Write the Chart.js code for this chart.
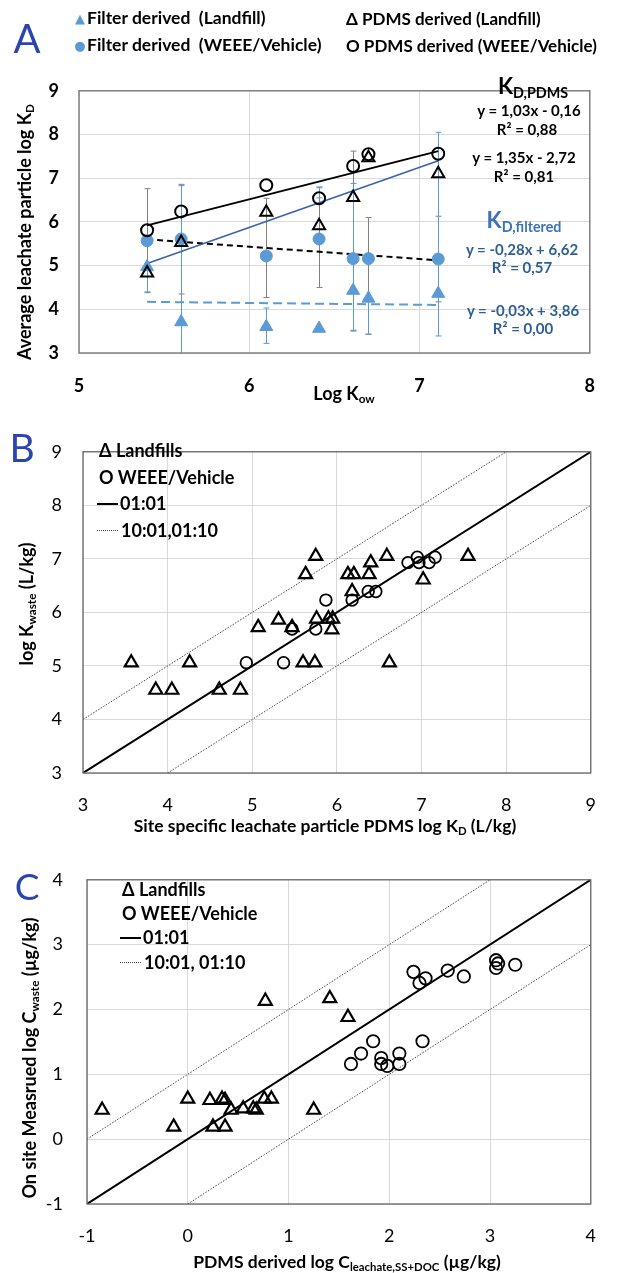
<!DOCTYPE html>
<html><head><meta charset="utf-8">
<script src="https://cdn.jsdelivr.net/npm/chart.js@4"></script>
<style>
body{margin:0;background:#fff;width:617px;height:1273px;position:relative;overflow:hidden;font-family:Lato,'Open Sans',sans-serif;}
.pnl{position:absolute;left:0;width:617px;}
.t{position:absolute;white-space:nowrap;color:#000;font-weight:bold;line-height:1;transform:translateY(-50%);}
.c{position:absolute;white-space:nowrap;color:#000;font-weight:bold;line-height:1;transform:translate(-50%,-50%);}
.r{position:absolute;white-space:nowrap;color:#000;font-weight:bold;line-height:1;transform:translate(-50%,-50%) rotate(-90deg);}
.s{position:absolute;line-height:1;transform:translate(-50%,-50%);font-family:'DejaVu Sans',sans-serif;}
.let{position:absolute;color:#2b45b0;font-weight:normal;line-height:1;transform:translate(-50%,-50%);}
sub{font-size:65%;vertical-align:-0.25em;line-height:0;}
.bl{color:#2e5e95;}
.ln{position:absolute;height:0;}
</style></head><body>

<div class="pnl" style="top:60px;height:350px;"><canvas id="cA"></canvas></div>
<div class="pnl" style="top:420px;height:400px;"><canvas id="cB"></canvas></div>
<div class="pnl" style="top:845px;height:428px;"><canvas id="cC"></canvas></div>

<!-- Panel A texts -->
<div class="let" style="left:27px;top:38px;font-size:40px;">A</div>
<div class="s" style="left:80px;top:18px;font-size:13px;color:#5b9bd5;">▲</div>
<div class="t" style="left:87px;top:18px;font-size:17.5px;">Filter derived&nbsp;&nbsp;(Landfill)</div>
<div class="s" style="left:80px;top:45px;font-size:13px;color:#5b9bd5;">●</div>
<div class="t" style="left:87px;top:45px;font-size:17.5px;">Filter derived&nbsp;&nbsp;(WEEE/Vehicle)</div>
<div class="t" style="left:346px;top:18px;font-size:17px;">Δ PDMS derived (Landfill)</div>
<div class="t" style="left:346px;top:45px;font-size:17px;">O PDMS derived (WEEE/Vehicle)</div>

<div class="c" style="left:533px;top:86px;font-size:22px;">K<sub>D,PDMS</sub></div>
<div class="c" style="left:529px;top:110px;font-size:15px;">y = 1,03x - 0,16</div>
<div class="c" style="left:527px;top:129px;font-size:15px;">R² = 0,88</div>
<div class="c" style="left:524px;top:157px;font-size:15px;">y = 1,35x - 2,72</div>
<div class="c" style="left:524px;top:176px;font-size:15px;">R² = 0,81</div>
<div class="c" style="left:524px;top:220px;font-size:22px;color:#3b73b9;">K<sub>D,filtered</sub></div>
<div class="c bl" style="left:522px;top:249px;font-size:15px;">y = -0,28x + 6,62</div>
<div class="c bl" style="left:522px;top:267px;font-size:15px;">R² = 0,57</div>
<div class="c bl" style="left:523px;top:310px;font-size:15px;">y = -0,03x + 3,86</div>
<div class="c bl" style="left:523px;top:328px;font-size:15px;">R² = 0,00</div>

<div class="r" style="left:24px;top:232px;font-size:18px;">Average leachate particle log K<sub>D</sub></div>
<div class="c" style="left:344px;top:393px;font-size:18px;">Log K<sub>ow</sub></div>

<!-- Panel B texts -->
<div class="let" style="left:22px;top:447px;font-size:39px;">B</div>
<div class="t" style="left:99px;top:450px;font-size:18px;">Δ Landfills</div>
<div class="t" style="left:99px;top:477px;font-size:18px;">O WEEE/Vehicle</div>
<div class="ln" style="left:97px;top:503px;width:21px;border-top:2px solid #000;"></div>
<div class="t" style="left:120px;top:503px;font-size:18px;">01:01</div>
<div class="ln" style="left:97px;top:530px;width:21px;border-top:1px dotted #444;"></div>
<div class="t" style="left:121px;top:530px;font-size:18px;">10:01,01:10</div>
<div class="r" style="left:26px;top:604px;font-size:18px;">log K<sub>waste</sub> (L/kg)</div>
<div class="c" style="left:325px;top:826px;font-size:17.5px;">Site specific leachate particle PDMS log K<sub>D</sub> (L/kg)</div>

<!-- Panel C texts -->
<div class="let" style="left:27px;top:885px;font-size:37px;">C</div>
<div class="t" style="left:122px;top:889px;font-size:18px;">Δ Landfills</div>
<div class="t" style="left:122px;top:913px;font-size:18px;">O WEEE/Vehicle</div>
<div class="ln" style="left:120px;top:937px;width:21px;border-top:2px solid #000;"></div>
<div class="t" style="left:143px;top:937px;font-size:18px;">01:01</div>
<div class="ln" style="left:120px;top:962px;width:21px;border-top:1px dotted #444;"></div>
<div class="t" style="left:144px;top:962px;font-size:18px;">10:01, 01:10</div>
<div class="r" style="left:29px;top:1058px;font-size:18px;">On site Measrued log C<sub>waste</sub> (µg/kg)</div>
<div class="c" style="left:347px;top:1262px;font-size:17.5px;">PDMS derived log C<sub>leachate,SS+DOC</sub> (µg/kg)</div>

<script>
// ---------- Panel A data ----------
const kowA          = [5.40, 5.60, 6.10, 6.41, 6.61, 6.70, 7.11];
const pdmsWeeeA     = [5.81, 6.24, 6.84, 6.54, 7.28, 7.55, 7.56];
const pdmsLandA     = [4.83, 5.53, 6.22, 5.91, 6.56, 7.47, 7.10];
const filtWeeeA     = [5.57, 5.61, 5.22, 5.61, 5.16, 5.16, 5.15];
const filtLandA     = [4.97, 3.71, 3.60, 3.56, 4.43, 4.25, 4.36];
const greyErrLowA   = [4.38, 4.35, 4.27, 4.50, 3.52, 3.43, 4.17];
const greyErrHighA  = [6.76, 6.86, 6.54, 6.80, 7.62, 6.10, 6.13];
const blueErrLowA   = [4.40, 2.50, 3.22, 6.55, 3.50, 3.43, 3.39];
const blueErrHighA  = [4.95, 6.83, 4.03, 6.78, 6.88, 4.25, 8.05];
const trendXA       = [5.40, 7.11];
const pdmsWeeeTrendA = [5.92, 7.62];
const pdmsLandTrendA = [5.05, 7.40];
const filtWeeeTrendA = [5.60, 5.12];
const filtLandTrendA = [4.17, 4.10];
const ticksXA = [5, 6, 7, 8];
const ticksYA = [3, 4, 5, 6, 7, 8, 9];

// ---------- Panel B data ----------
const landBx = [3.57, 3.86, 4.05, 4.26, 4.61, 4.86, 5.07, 5.31, 5.47, 5.60, 5.74, 5.63, 5.75, 5.76, 5.90, 5.95, 5.94, 6.13, 6.20, 6.38, 6.18, 6.40, 6.59, 7.02, 7.55, 6.62];
const landBy = [5.06, 4.55, 4.55, 5.06, 4.55, 4.55, 5.72, 5.86, 5.72, 5.06, 5.06, 6.71, 7.05, 5.88, 5.88, 5.88, 5.68, 6.71, 6.71, 6.71, 6.39, 6.93, 7.05, 6.61, 7.05, 5.06];
const weeeBx = [4.93, 5.37, 5.47, 5.75, 5.87, 6.18, 6.37, 6.46, 6.84, 6.95, 6.97, 7.09, 7.16];
const weeeBy = [5.06, 5.06, 5.69, 5.69, 6.23, 6.23, 6.39, 6.39, 6.93, 7.03, 6.93, 6.93, 7.03];
const oneToOneB = [3, 9];
const upperBx = [3, 8], upperBy = [4, 9];
const lowerBx = [4, 9], lowerBy = [3, 8];

// ---------- Panel C data ----------
const landCx = [-0.85, -0.14, 0.00, 0.22, 0.25, 0.34, 0.37, 0.37, 0.43, 0.55, 0.65, 0.68, 0.76, 0.83, 1.25, 0.77, 1.41, 1.59];
const landCy = [0.45, 0.19, 0.62, 0.60, 0.19, 0.62, 0.60, 0.19, 0.45, 0.47, 0.47, 0.45, 0.62, 0.62, 0.45, 2.13, 2.17, 1.88];
const weeeCx = [1.62, 1.72, 1.84, 1.92, 1.92, 1.98, 2.10, 2.10, 2.33, 2.24, 2.30, 2.36, 2.58, 2.74, 3.06, 3.06, 3.08, 3.25];
const weeeCy = [1.16, 1.32, 1.51, 1.25, 1.16, 1.13, 1.32, 1.16, 1.51, 2.58, 2.41, 2.48, 2.60, 2.51, 2.64, 2.76, 2.71, 2.69];
const oneToOneC = [-1, 4];
const upperCx = [-1, 3], upperCy = [0, 4];
const lowerCx = [0, 4], lowerCy = [-1, 3];

const pts = (xs, ys) => xs.map((x, i) => ({x: x, y: ys[i]}));

const BLUE = '#5b9bd5';
const FONT = "Lato, 'Open Sans', sans-serif";

const boxPlugin = {
  id: 'box',
  afterDatasetsDraw(chart, args, opts) {
    const a = chart.chartArea, ctx = chart.ctx;
    ctx.save();
    ctx.strokeStyle = opts.color || '#808080';
    ctx.lineWidth = opts.width || 1.5;
    ctx.strokeRect(a.left, a.top, a.right - a.left, a.bottom - a.top);
    ctx.restore();
  }
};

const errPlugin = {
  id: 'errbars',
  beforeDatasetsDraw(chart, args, opts) {
    if (!opts.sets) return;
    const ctx = chart.ctx, xs = chart.scales.x, ys = chart.scales.y, a = chart.chartArea;
    ctx.save();
    ctx.beginPath();
    ctx.rect(a.left, a.top, a.right - a.left, a.bottom - a.top);
    ctx.clip();
    opts.sets.forEach(s => {
      ctx.strokeStyle = s.color;
      ctx.lineWidth = 1;
      s.x.forEach((xv, i) => {
        const px = Math.round(xs.getPixelForValue(xv)) + 0.5;
        const y1 = ys.getPixelForValue(s.lo[i]);
        const y2 = ys.getPixelForValue(s.hi[i]);
        ctx.beginPath();
        ctx.moveTo(px, y1); ctx.lineTo(px, y2);
        ctx.moveTo(px - 3, y1); ctx.lineTo(px + 3, y1);
        ctx.moveTo(px - 3, y2); ctx.lineTo(px + 3, y2);
        ctx.stroke();
      });
    });
    ctx.restore();
  }
};

function axis(min, max, ticks, width, height, font, pad, isY) {
  return {
    type: 'linear', min: min, max: max,
    grid: {color: '#d9d9d9', lineWidth: 1, drawTicks: false},
    border: {display: false},
    ticks: {font: font, color: '#000', padding: pad, autoSkip: false},
    afterBuildTicks: (s) => { s.ticks = ticks.map(v => ({value: v})); },
    afterFit: (s) => { if (isY) s.width = width; else s.height = height; }
  };
}

function lineDS(xs, ys, color, w, dash) {
  return {data: pts(xs, ys), showLine: true, borderColor: color, borderWidth: w,
    borderDash: dash || [], pointRadius: 0, pointHoverRadius: 0, order: 10, fill: false};
}

function markerDS(xs, ys, style, r, fillC, borderC, bw, order) {
  return {data: pts(xs, ys), pointStyle: style, pointRadius: r, pointHoverRadius: r,
    backgroundColor: fillC, borderColor: borderC, pointBorderWidth: bw, borderWidth: bw,
    showLine: false, order: order};
}

const common = {
  responsive: true, maintainAspectRatio: false, animation: false, devicePixelRatio: 1,
  plugins: {legend: {display: false}, tooltip: {enabled: false}},
  events: []
};

// ---------- Chart A ----------
new Chart(document.getElementById('cA'), {
  type: 'scatter',
  data: {datasets: [
    markerDS(kowA, pdmsLandA, 'triangle', 7, 'rgba(0,0,0,0)', '#000', 2, 0),
    markerDS(kowA, pdmsWeeeA, 'circle', 6, 'rgba(0,0,0,0)', '#000', 2, 0),
    markerDS(kowA, filtWeeeA, 'circle', 6, BLUE, BLUE, 1, 2),
    markerDS(kowA, filtLandA, 'triangle', 7.5, BLUE, BLUE, 1, 2),
    lineDS(trendXA, pdmsWeeeTrendA, '#000', 2),
    lineDS(trendXA, pdmsLandTrendA, '#3a62ad', 1.6),
    lineDS(trendXA, filtWeeeTrendA, '#000', 2, [6, 4]),
    lineDS(trendXA, filtLandTrendA, BLUE, 2, [9, 5])
  ]},
  options: Object.assign({}, common, {
    layout: {padding: {top: 15, right: 7, left: 0, bottom: 0}},
    scales: {
      x: axis(5, 8, ticksXA, 0, 57, {family: FONT, size: 18, weight: 'bold'}, 22, false),
      y: axis(3, 9, ticksYA, 79, 0, {family: FONT, size: 18, weight: 'bold'}, 20, true)
    },
    plugins: Object.assign({}, common.plugins, {
      box: {color: '#808080', width: 1.5},
      errbars: {sets: [
        {x: kowA, lo: greyErrLowA, hi: greyErrHighA, color: '#808080'},
        {x: kowA, lo: blueErrLowA, hi: blueErrHighA, color: BLUE}
      ]}
    })
  }),
  plugins: [errPlugin, boxPlugin]
});

// ---------- Chart B ----------
const ticksB = [3, 4, 5, 6, 7, 8, 9];
new Chart(document.getElementById('cB'), {
  type: 'scatter',
  data: {datasets: [
    markerDS(landBx, landBy, 'triangle', 7.5, 'rgba(0,0,0,0)', '#000', 2.2, 0),
    markerDS(weeeBx, weeeBy, 'circle', 5.8, 'rgba(0,0,0,0)', '#000', 1.8, 1),
    lineDS(oneToOneB, oneToOneB, '#000', 2),
    lineDS(upperBx, upperBy, '#444', 1, [1.5, 1.5]),
    lineDS(lowerBx, lowerBy, '#444', 1, [1.5, 1.5])
  ]},
  options: Object.assign({}, common, {
    layout: {padding: {top: 15, right: 11, left: 0, bottom: 0}},
    scales: {
      x: axis(3, 9, ticksB, 0, 47, {family: FONT, size: 18}, 21, false),
      y: axis(3, 9, ticksB, 83, 0, {family: FONT, size: 18}, 21, true)
    },
    plugins: Object.assign({}, common.plugins, {box: {color: '#666', width: 1.3}})
  }),
  plugins: [boxPlugin]
});

// ---------- Chart C ----------
const ticksC = [-1, 0, 1, 2, 3, 4];
new Chart(document.getElementById('cC'), {
  type: 'scatter',
  data: {datasets: [
    markerDS(landCx, landCy, 'triangle', 7.5, 'rgba(0,0,0,0)', '#000', 2.2, 0),
    markerDS(weeeCx, weeeCy, 'circle', 6.2, 'rgba(0,0,0,0)', '#000', 1.8, 1),
    lineDS(oneToOneC, oneToOneC, '#000', 2),
    lineDS(upperCx, upperCy, '#444', 1, [1.5, 1.5]),
    lineDS(lowerCx, lowerCy, '#444', 1, [1.5, 1.5])
  ]},
  options: Object.assign({}, common, {
    layout: {padding: {top: 17, right: 5, left: 0, bottom: 0}},
    scales: {
      x: axis(-1, 4, ticksC, 0, 69, {family: FONT, size: 18}, 21, false),
      y: axis(-1, 4, ticksC, 87, 0, {family: FONT, size: 18}, 24, true)
    },
    plugins: Object.assign({}, common.plugins, {box: {color: '#666', width: 1.3}})
  }),
  plugins: [boxPlugin]
});
</script>
</body></html>
